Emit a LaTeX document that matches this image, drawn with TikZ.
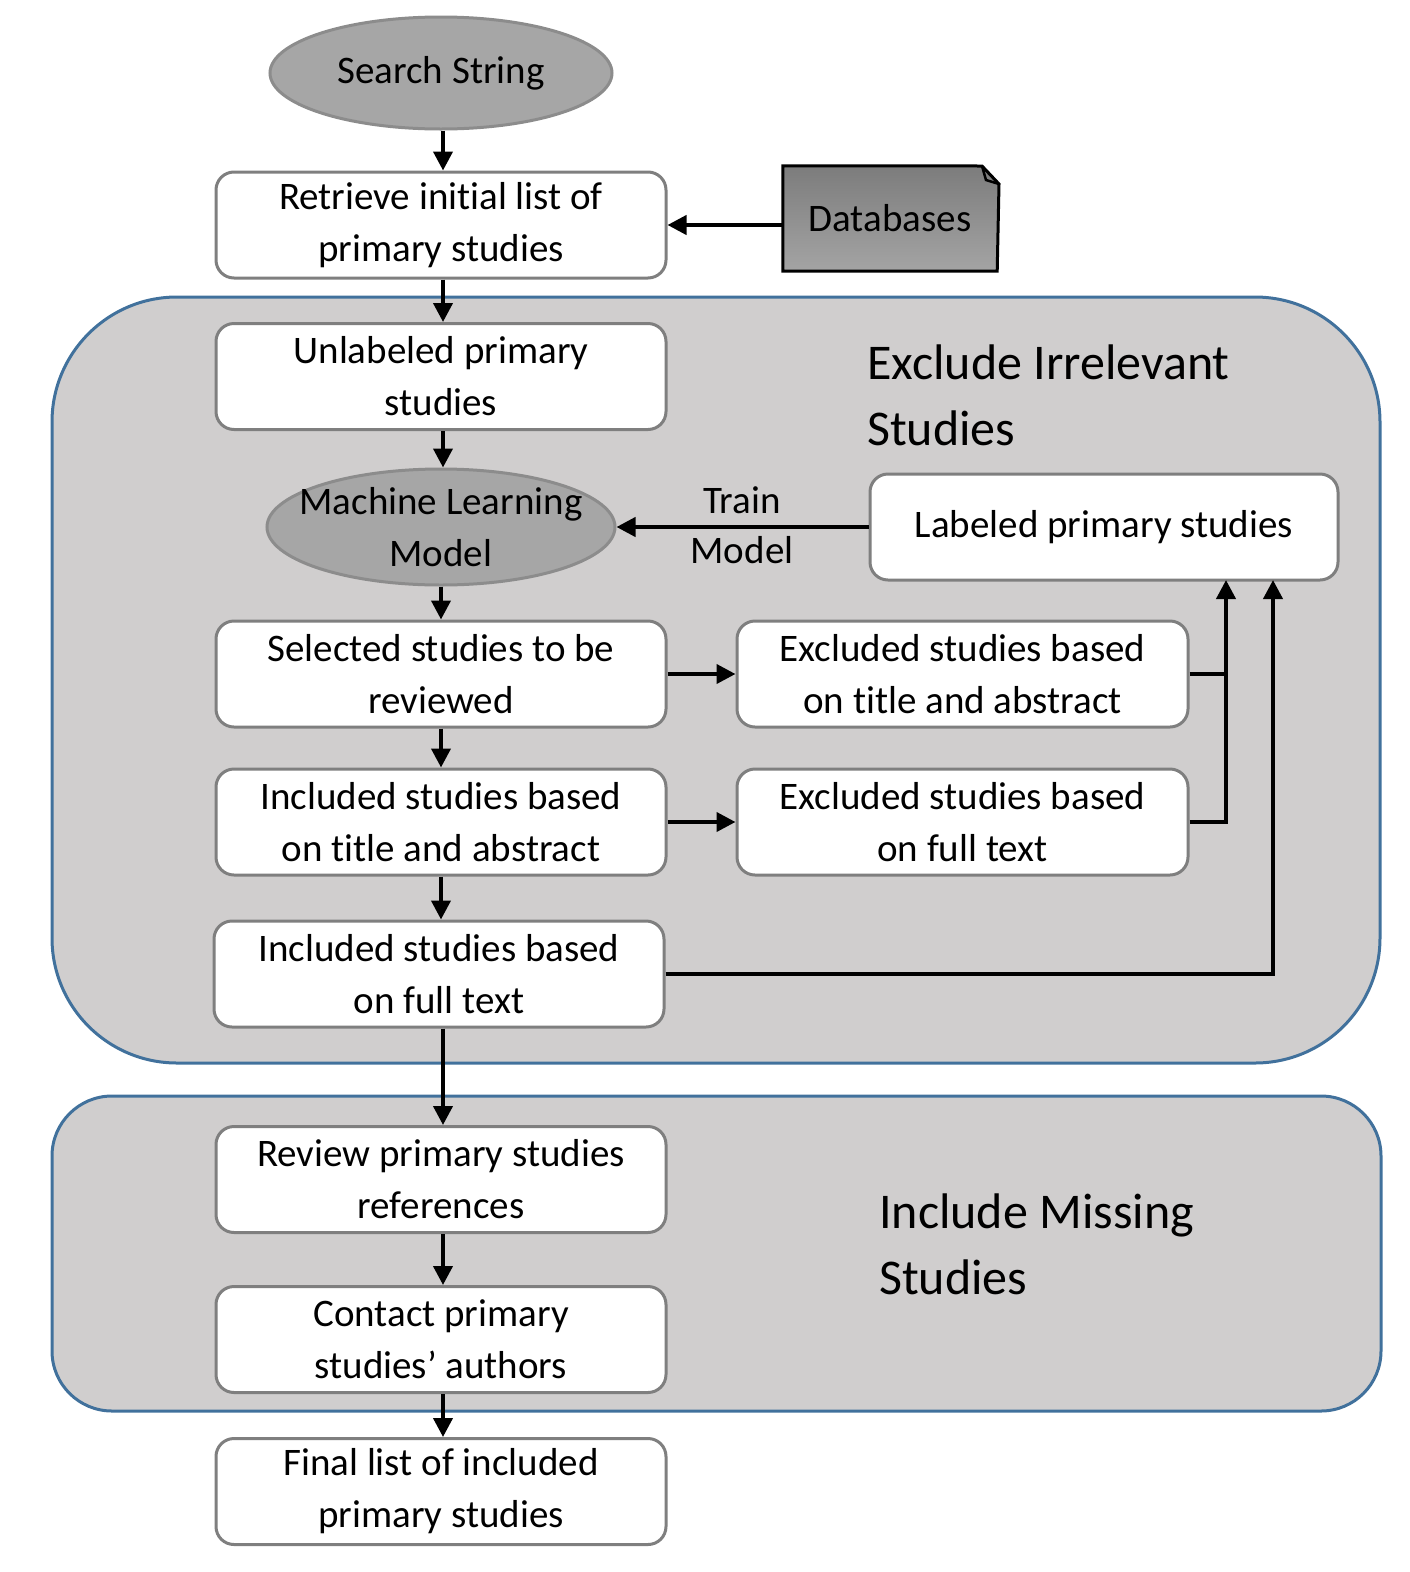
\documentclass[tikz,border=0pt]{standalone}
\usepackage{fontspec}
\setmainfont[Ligatures=NoCommon]{Carlito}
\usetikzlibrary{arrows.meta,shapes.geometric}
\definecolor{boxgray}{HTML}{7F7F7F}
\definecolor{regfill}{HTML}{D0CECE}
\definecolor{regline}{HTML}{41719C}
\definecolor{ellfill}{HTML}{A6A6A6}
\definecolor{elline}{HTML}{8C8C8C}
\definecolor{dbtop}{HTML}{7C7C7C}
\definecolor{dbbot}{HTML}{A4A4A4}
\begin{document}
\begin{tikzpicture}[x=1pt,y=-1pt,
  box/.style={draw=boxgray, line width=3pt, rounded corners=18pt, fill=white,
    minimum width=450pt, minimum height=106pt, align=center, inner sep=0pt,
    font=\fontsize{39}{52}\selectfont},
  ell/.style={ellipse, draw=elline, line width=3pt, fill=ellfill, inner sep=0pt},
  txt/.style={inner sep=0pt, align=center, font=\fontsize{39}{52}\selectfont},
  region/.style={draw=regline, line width=3pt, fill=regfill, inner sep=0pt},
  reglabel/.style={anchor=west, align=left, inner sep=0pt, font=\fontsize{50}{66}\selectfont},
  lbl/.style={inner sep=0pt, font=\fontsize{39}{44}\selectfont},
  arr/.style={line width=4pt, -{Triangle[length=19pt,width=19pt]}},
  plain/.style={line width=4pt}
]
\useasboundingbox (0,0) rectangle (1409,1572);

% regions
\node[region, rounded corners=125pt, minimum width=1328pt, minimum height=766pt] (reg1) at (716,680) {};
\node[region, rounded corners=60pt, minimum width=1329pt, minimum height=315pt] (reg2) at (716.5,1253.5) {};
\node[reglabel] (reg1lbl) at (867,395) {Exclude Irrelevant\\Studies};
\node[reglabel] (reg2lbl) at (879,1244) {Include Missing\\Studies};

% nodes
\node[ell, minimum width=342pt, minimum height=112pt] (search) at (441,73) {};
\node[txt] (searchtxt) at (search.center) {Search String};
\node[box] (retrieve) at (441,225) {Retrieve initial list of\\primary studies};
\node[inner sep=0pt, minimum width=214pt, minimum height=105pt] (db) at (890,218.5) {};
\node[box] (unlabeled) at (441,376.5) {Unlabeled primary\\studies};
\node[ell, minimum width=348pt, minimum height=116pt] (ml) at (441,527) {};
\node[txt] (mltxt) at (ml.center) {Machine Learning\\Model};
\node[box, minimum width=468pt] (labeled) at (1104,527) {Labeled primary studies};
\node[box] (selected) at (441,674) {Selected studies to be\\reviewed};
\node[box, minimum width=451pt] (excl1) at (962.5,674) {Excluded studies based\\on title and abstract};
\node[box] (incl1) at (441,822) {Included studies based\\on title and abstract};
\node[box, minimum width=451pt] (excl2) at (962.5,822) {Excluded studies based\\on full text};
\node[box] (incl2) at (439,974) {Included studies based\\on full text};
\node[box] (review) at (441,1179.5) {Review primary studies\\references};
\node[box] (contact) at (441,1339.5) {Contact primary\\studies’ authors};
\node[box] (final) at (441,1491.5) {Final list of included\\primary studies};

% databases shape (folded corner)
\fill[top color=dbtop, bottom color=dbbot] (db.north west) -- (982,166) -- (999,184) -- (db.south east) -- (db.south west) -- cycle;
\draw[line width=3pt, line join=miter] (db.north west) -- (982,166) -- (999,184) -- (db.south east) -- (db.south west) -- cycle;
\draw[line width=2.5pt, line join=miter] (982,166) -- (986,180) -- (999,184);
\node[txt] (dbtext) at (db.center) {Databases};

% labels
\node[lbl] (train) at (742,500) {Train};
\node[lbl] (model) at (742,550) {Model};

% connectors
\draw[arr] (search.south -| 443,0) -- (retrieve.north -| 443,0);
\draw[arr] (db.west |- retrieve.east) -- (retrieve.east);
\draw[arr] (retrieve.south -| 443,0) -- (unlabeled.north -| 443,0);
\draw[arr] (unlabeled.south -| 443,0) -- (ml.north -| 443,0);
\draw[arr] (labeled.west) -- (ml.east);
\draw[arr] (ml.south -| 441,0) -- (selected.north -| 441,0);
\draw[arr] (selected.east) -- (excl1.west);
\draw[arr] (selected.south -| 441,0) -- (incl1.north -| 441,0);
\draw[arr] (incl1.east) -- (excl2.west);
\draw[arr] (incl1.south -| 441,0) -- (incl2.north -| 441,0);
\coordinate (up1) at (1226,580);
\coordinate (up2) at (1273,580);
\draw[plain] (excl1.east) -- (excl1.east -| up1);
\draw[arr, line join=miter] (excl2.east) -| (up1);
\draw[arr, line join=miter] (incl2.east) -| (up2);
\draw[arr] (incl2.south -| 443,0) -- (review.north -| 443,0);
\draw[arr] (review.south -| 443,0) -- (contact.north -| 443,0);
\draw[arr] (contact.south -| 443,0) -- (final.north -| 443,0);
\end{tikzpicture}
\end{document}
